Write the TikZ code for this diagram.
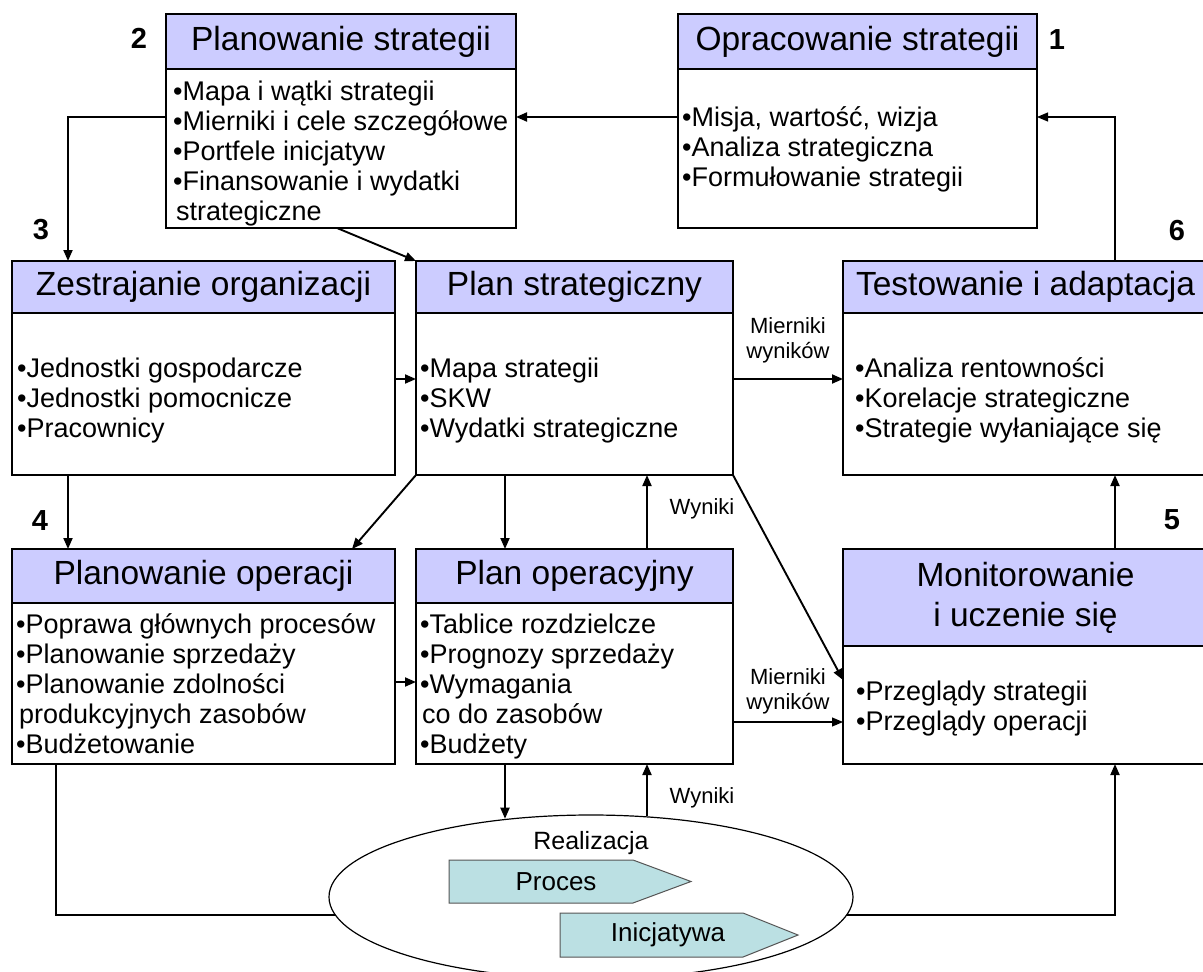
\documentclass[tikz,border=0pt]{standalone}
\usepackage{fontspec}
\setmainfont{Liberation Sans}
\usetikzlibrary{arrows.meta,shapes.geometric,calc}
\definecolor{hdrfill}{HTML}{CCCCFF}
\definecolor{shpfill}{HTML}{BBE0E3}
\definecolor{shpdraw}{HTML}{555555}
\begin{document}
\begin{tikzpicture}[x=1pt,y=-1pt,
  box/.style={draw,line width=1.3pt,anchor=north west,inner sep=0pt,outer sep=0pt},
  hdr/.style={draw,fill=hdrfill,line width=1.3pt,anchor=north west,inner sep=0pt,outer sep=0pt,
    font=\fontsize{33.5}{40}\selectfont,align=center},
  body/.style={anchor=north west,inner sep=0pt,align=left,font=\fontsize{27}{30}\selectfont},
  num/.style={inner sep=0pt,font=\fontsize{29}{30}\selectfont\bfseries},
  lab/.style={inner sep=0pt,align=center,font=\fontsize{22}{25}\selectfont},
  shplab/.style={inner sep=0pt,font=\fontsize{26}{28}\selectfont},
  shp/.style={fill=shpfill,draw=shpdraw,line width=1pt},
  arr/.style={line width=1.9pt,-{Triangle[length=11pt,width=9pt]}},
  thinarr/.style={line width=1.1pt,-{Triangle[length=11pt,width=9pt]}},
  ln/.style={line width=1.9pt}]
\useasboundingbox (0,0) rectangle (1203,972);
\fill[white] (0,0) rectangle (1203,972);
\begin{scope}
\clip (0,0) rectangle (1203,972);

% helper coordinates
\coordinate (L117) at (0,117);
\coordinate (L379) at (0,379);
\coordinate (L682) at (0,682);
\coordinate (L722) at (0,722);
\coordinate (L680) at (0,680);
\coordinate (X56) at (56,0);
\coordinate (X68) at (68,0);
\coordinate (X337) at (337,0);
\coordinate (X352) at (352,0);
\coordinate (X505) at (505,0);
\coordinate (X647) at (647,0);
\coordinate (X1115) at (1115,0);

% ---- boxes ----
\node[box,minimum width=350pt,minimum height=214pt] (b2) at (166,14) {};
\node[hdr,minimum width=350pt,minimum height=55pt] (b2h) at (166,14) {Planowanie strategii};
\node[body] (b2t) at (173,79) {\strut•Mapa i wątki strategii\\\strut•Mierniki i cele szczegółowe\\\strut•Portfele inicjatyw\\\strut•Finansowanie i wydatki\\\strut\hspace{3pt}strategiczne};

\node[box,minimum width=359pt,minimum height=214pt] (b1) at (678,14) {};
\node[hdr,minimum width=359pt,minimum height=55pt] (b1h) at (678,14) {Opracowanie strategii};
\node[body] (b1t) at (682,105) {\strut•Misja, wartość, wizja\\\strut•Analiza strategiczna\\\strut•Formułowanie strategii};

\node[box,minimum width=383pt,minimum height=214pt] (b3) at (12,261) {};
\node[hdr,minimum width=383pt,minimum height=52pt] (b3h) at (12,261) {Zestrajanie organizacji};
\node[body] (b3t) at (17,356) {\strut•Jednostki gospodarcze\\\strut•Jednostki pomocnicze\\\strut•Pracownicy};

\node[box,minimum width=317pt,minimum height=214pt] (bps) at (416,261) {};
\node[hdr,minimum width=317pt,minimum height=52pt] (bpsh) at (416,261) {Plan strategiczny};
\node[body] (bpst) at (420,356) {\strut•Mapa strategii\\\strut•SKW\\\strut•Wydatki strategiczne};

\node[box,minimum width=365pt,minimum height=214pt] (bt) at (843,261) {};
\node[hdr,minimum width=365pt,minimum height=52pt] (bth) at (843,261) {Testowanie i adaptacja};
\node[body] (btt) at (855,356) {\strut•Analiza rentowności\\\strut•Korelacje strategiczne\\\strut•Strategie wyłaniające się};

\node[box,minimum width=383pt,minimum height=215pt] (b4) at (12,549) {};
\node[hdr,minimum width=383pt,minimum height=54pt] (b4h) at (12,549) {Planowanie operacji};
\node[body] (b4t) at (16,612) {\strut•Poprawa głównych procesów\\\strut•Planowanie sprzedaży\\\strut•Planowanie zdolności\\\strut\hspace{3pt}produkcyjnych zasobów\\\strut•Budżetowanie};

\node[box,minimum width=317pt,minimum height=215pt] (bpo) at (416,549) {};
\node[hdr,minimum width=317pt,minimum height=54pt] (bpoh) at (416,549) {Plan operacyjny};
\node[body] (bpot) at (420,612) {\strut•Tablice rozdzielcze\\\strut•Prognozy sprzedaży\\\strut•Wymagania\\\strut\hspace{2pt}co do zasobów\\\strut•Budżety};

\node[box,minimum width=365pt,minimum height=215pt] (b5) at (843,549) {};
\node[hdr,minimum width=365pt,minimum height=97pt] (b5h) at (843,549) {Monitorowanie\\i uczenie się};
\node[body] (b5t) at (856,679) {\strut•Przeglądy strategii\\\strut•Przeglądy operacji};

% ---- numbers ----
\node[num] (n2) at (139,38) {2};
\node[num] (n1) at (1057,40) {1};
\node[num] (n3) at (41,230) {3};
\node[num] (n6) at (1177,231) {6};
\node[num] (n4) at (40,521) {4};
\node[num] (n5) at (1172,520) {5};

% ---- realization ellipse ----
\node[draw,ellipse,line width=1.2pt,minimum width=524pt,minimum height=164pt,inner sep=0pt] (real) at (591,897) {};
\node[inner sep=0pt,font=\fontsize{25}{28}\selectfont] (realt) at (591,843) {Realizacja};
\draw[shp] (449,860) -- (633,860) -- (691,881.5) -- (633,903) -- (449,903) -- cycle;
\node[shplab] (proc) at (556,882) {Proces};
\draw[shp] (560,913) -- (743,913) -- (798,935) -- (743,957) -- (560,957) -- cycle;
\node[shplab] (inic) at (668,935) {Inicjatywa};

% ---- connectors ----
\draw[arr] (b1.west |- L117) -- (b2.east |- L117);
\draw[arr] (b2.west |- L117) -| (b3.north -| X68);
\draw[arr] (b2.south -| X337) -- (bps.north west);
\draw[arr] (b3.east |- L379) -- (bps.west |- L379);
\draw[arr] (bps.east |- L379) -- (bt.west |- L379);
\node[lab] (mw1) at (788,340) {Mierniki\\wyników};
\draw[thinarr] (bt.north -| X1115) |- (b1.east |- L117);
\draw[arr] (b3.south -| X68) -- (b4.north -| X68);
\draw[arr] (bps.south west) -- (b4.north -| X352);
\draw[arr] (bps.south -| X505) -- (bpo.north -| X505);
\draw[arr] (bpo.north -| X647) -- (bps.south -| X647);
\node[lab] (wy1) at (702,509) {Wyniki};
\draw[arr] (bps.south east) -- (b5.west |- L680);
\draw[arr] (b4.east |- L682) -- (bpo.west |- L682);
\draw[thinarr] (bpo.east |- L722) -- (b5.west |- L722);
\node[lab] (mw2) at (788,691) {Mierniki\\wyników};
\draw[arr] (b5.north -| X1115) -- (bt.south -| X1115);
\draw[arr] (bpo.south -| X505) -- (X505 |- real.137);
\draw[arr] (X647 |- real.55) -- (bpo.south -| X647);
\node[lab] (wy2) at (702,798) {Wyniki};
\draw[ln] (b4.south -| X56) |- (real.184);
\draw[arr] (real.-4) -| (b5.south -| X1115);
\end{scope}
\end{tikzpicture}
\end{document}
